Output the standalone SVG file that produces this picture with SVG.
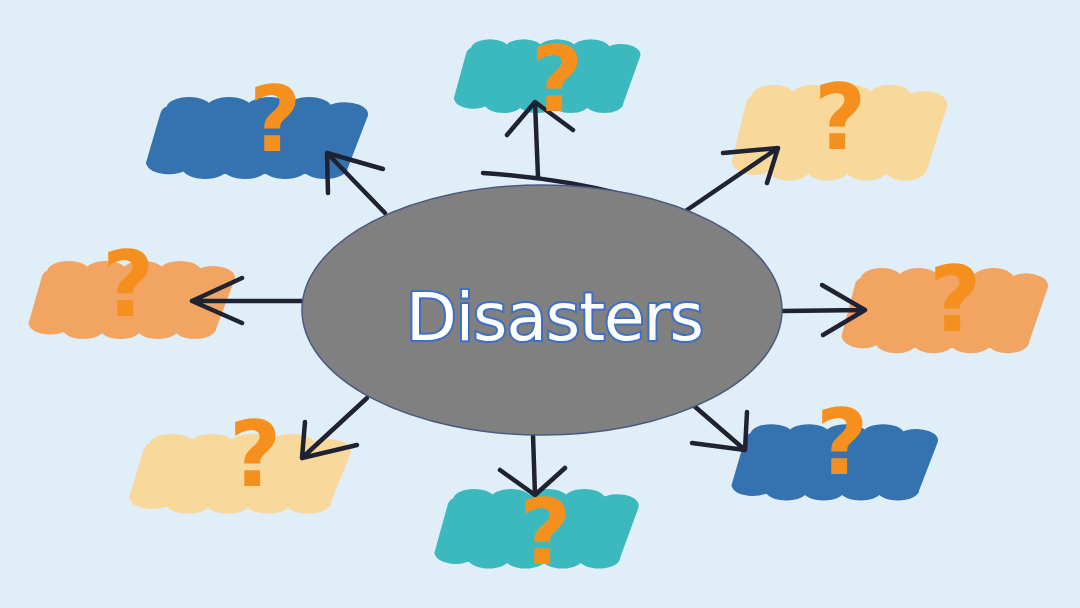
<svg xmlns="http://www.w3.org/2000/svg" width="1080" height="608" viewBox="0 0 1080 608">
<style>
.arrow{fill:none;stroke:#1f2233;stroke-width:4.5;stroke-linecap:round;stroke-linejoin:round}
.q{font-family:"DejaVu Sans","Liberation Sans",sans-serif;font-weight:bold;font-size:90px;fill:#f5901e;text-anchor:middle}
.blob{stroke-width:6;stroke-linejoin:round}
</style>
<defs>
<path id="blob" d="M30 10a20 9 0 0 1 40 0a20 9 0 0 1 40 0a20 9 0 0 1 40 0a20 9 0 0 1 40 0a20 9 0 0 1 36 6L206 68a20 9 0 0 1-40 0a20 9 0 0 1-40 0a20 9 0 0 1-40 0a20 9 0 0 1-40 0a20 10 0 0 1-36-4L24 16a8 8 0 0 1 6-6Z"/>
</defs>
<rect width="1080" height="608" fill="#e0eef8"/>
<g id="blobs">
<use href="#blob" class="blob" fill="#3572b0" stroke="#3572b0" transform="translate(139,99)"/>
<use href="#blob" class="blob" fill="#3bb9be" stroke="#3bb9be" transform="translate(448,41) scale(0.84,0.9)"/>
<use href="#blob" class="blob" fill="#f9d89b" stroke="#f9d89b" transform="translate(725,87) scale(0.97,1.17)"/>
<use href="#blob" class="blob" fill="#f2a462" stroke="#f2a462" transform="translate(22,263) scale(0.93,0.95)"/>
<use href="#blob" class="blob" fill="#f2a462" stroke="#f2a462" transform="translate(835,270) scale(0.93,1.04)"/>
<use href="#blob" class="blob" fill="#f9d89b" stroke="#f9d89b" transform="translate(122,436) scale(1,0.97)"/>
<use href="#blob" class="blob" fill="#3bb9be" stroke="#3bb9be" transform="translate(428,491) scale(0.92,0.97)"/>
<use href="#blob" class="blob" fill="#3572b0" stroke="#3572b0" transform="translate(725,426) scale(0.93,0.93)"/>
</g>
<g id="connectors">
<path class="arrow" d="M385 213L327 153M328 193L327 153L383 169"/>
<path class="arrow" d="M538 177L535 102M507 135L535 102L573 130"/>
<path class="arrow" d="M483 173Q560 178 625 195"/>
<path class="arrow" d="M687 210L778 148M723 153L778 148L767 183"/>
<path class="arrow" d="M302 301L192 301M242 278L192 301L242 323"/>
<path class="arrow" d="M782 311L865 310M822 285L865 310L823 335"/>
<path class="arrow" d="M367 398L302 458M305 422L302 458L357 445"/>
<path class="arrow" d="M533 435L535 495M500 470L535 495L565 468"/>
<path class="arrow" d="M693 405L745 450M747 412L745 450L692 443"/>
</g>
<g id="center">
<ellipse cx="542" cy="310" rx="240" ry="125" fill="#808080" stroke="#4a5a80" stroke-width="1.5"/>
<text x="555" y="340" textLength="298" font-family="DejaVu Sans,Verdana,sans-serif" font-size="66" fill="#ffffff" stroke="#3d6fc6" stroke-width="4" paint-order="stroke" text-anchor="middle">Disasters</text>
</g>
<g id="questions">
<text class="q" x="275" y="151">?</text>
<text class="q" x="557" y="111">?</text>
<text class="q" x="840" y="149">?</text>
<text class="q" x="128" y="316">?</text>
<text class="q" x="955" y="331">?</text>
<text class="q" x="255" y="486">?</text>
<text class="q" x="545" y="564">?</text>
<text class="q" x="842" y="474">?</text>
</g>
</svg>
